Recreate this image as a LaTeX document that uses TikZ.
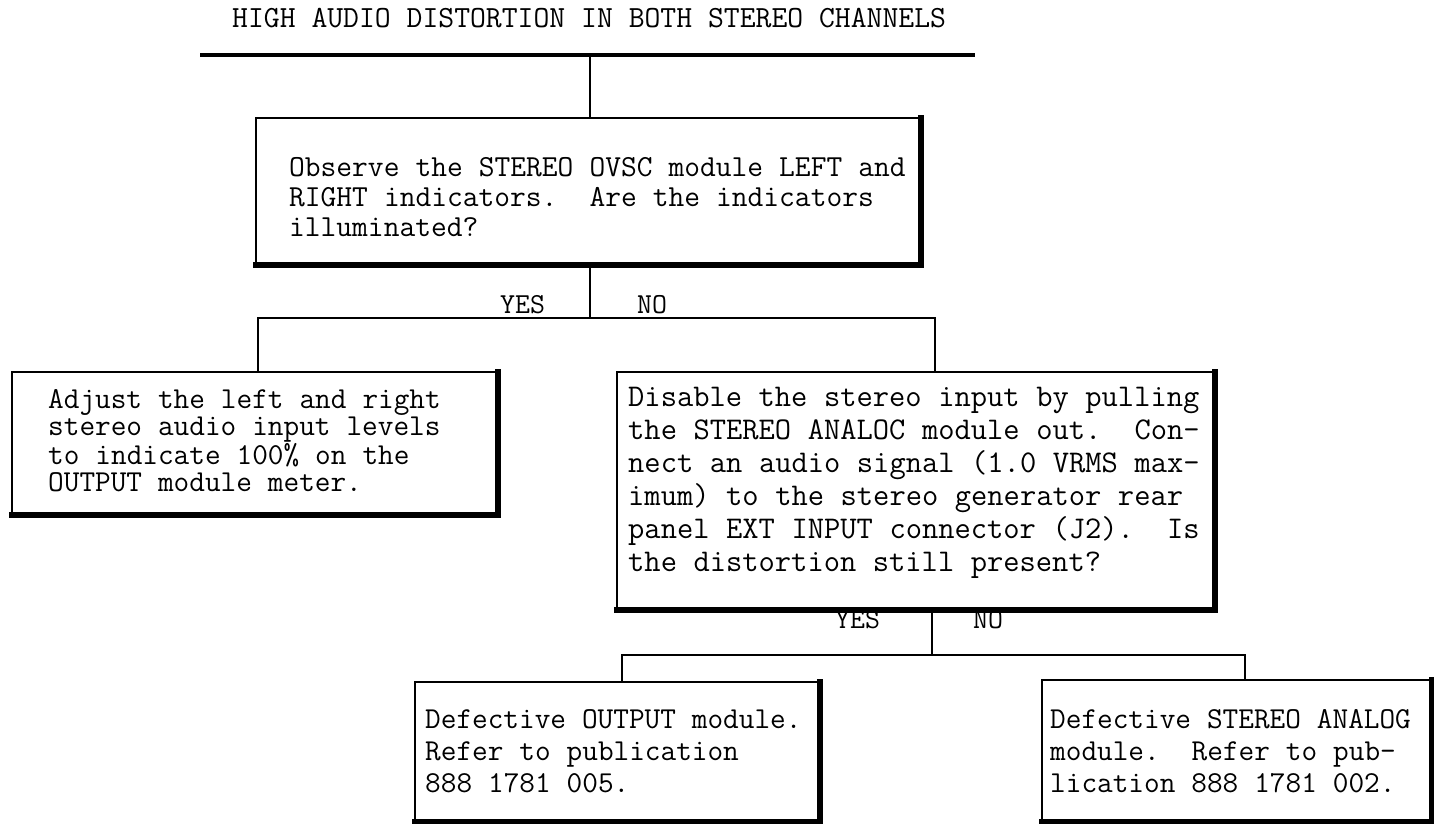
\documentclass[tikz,border=0pt]{standalone}
\usepackage{fontspec}
\newcommand\monosp{\spaceskip=0.525em\xspaceskip=0.525em\relax}
\begin{document}
\begin{tikzpicture}[x=1pt,y=-1pt,
  boxst/.style={draw=black, line width=2.8pt, rectangle, inner sep=0pt, outer sep=0pt, anchor=north west},
  shadowline/.style={line width=5.5pt, line cap=rect, line join=miter},
  conn/.style={line width=2.8pt, line cap=rect},
  rule/.style={line width=4.5pt},
  txt/.style={inner sep=0pt, anchor=base west, align=left, text width=700pt},
  lbl/.style={inner sep=0pt, anchor=base west, font=\ttfamily\fontsize{29}{30}\selectfont}
]
\useasboundingbox (0,0) rectangle (1434,824);
\fill[white] (0,0) rectangle (1434,824);

% title and rule
\node[lbl, font=\ttfamily\fontsize{30.8}{30}\selectfont] (title) at (232,28) {HIGH AUDIO DISTORTION IN BOTH STEREO CHANNELS};
\coordinate (ruleL) at (200,55);
\coordinate (ruleR) at (975,55);
\coordinate (r0) at (590,55);
\draw[rule] (ruleL) -- (ruleR);

% boxes
\node[boxst, minimum width=665, minimum height=147] (b1) at (256,118) {};
\node[boxst, minimum width=486, minimum height=143] (bA) at (12,372) {};
\node[boxst, minimum width=598, minimum height=238] (b2) at (617,372) {};
\node[boxst, minimum width=405, minimum height=140] (b3) at (415,682) {};
\node[boxst, minimum width=390, minimum height=142] (b4) at (1042,680) {};

\foreach \b in {b1,bA,b2,b3,b4}{
  \draw[shadowline] (\b.south west) -- (\b.south east) -- (\b.north east);
}

% texts
\node[txt, font=\ttfamily\fontsize{30.6}{30}\selectfont] (t1) at (289,176)
  {\monosp Observe the STEREO OVSC module LEFT and\\RIGHT indicators.~~Are the indicators\\illuminated?};
\node[txt, font=\ttfamily\fontsize{30.4}{27.5}\selectfont] (tA) at (48,408)
  {\monosp Adjust the left and right\\stereo audio input levels\\to indicate 100\% on the\\OUTPUT module meter.};
\node[txt, font=\ttfamily\fontsize{31.6}{33}\selectfont] (t2) at (628,406)
  {\monosp Disable the stereo input by pulling\\the STEREO ANALOC module out.~~Con-\\nect an audio signal (1.0 VRMS max-\\imum) to the stereo generator rear\\panel EXT INPUT connector (J2).~~Is\\the distortion still present?};
\node[txt, font=\ttfamily\fontsize{30.4}{32}\selectfont] (t3) at (425,728)
  {\monosp Defective OUTPUT module.\\Refer to publication\\888 1781 005.};
\node[txt, font=\ttfamily\fontsize{30.4}{32}\selectfont] (t4) at (1050,728)
  {\monosp Defective STEREO ANALOG\\module.~~Refer to pub-\\lication 888 1781 002.};

% labels
\node[lbl] (yes1) at (500,313) {YES};
\node[lbl] (no1) at (637,313) {NO};
\node[lbl] (yes2) at (835,628) {YES};
\node[lbl] (no2) at (973,628) {NO};

% connectors
\draw[conn] (r0) -- (r0 |- b1.north);
\coordinate (s1) at (590,318);
\coordinate (jl) at (258,318);
\coordinate (jr) at (935,318);
\draw[conn] (b1.south -| s1) -- (s1);
\draw[conn] (jl |- bA.north) -- (jl) -- (jr) -- (jr |- b2.north);
\coordinate (s2) at (932,655);
\coordinate (kl) at (622,655);
\coordinate (kr) at (1245,655);
\draw[conn] (b2.south -| s2) -- (s2);
\draw[conn] (kl |- b3.north) -- (kl) -- (kr) -- (kr |- b4.north);
\end{tikzpicture}
\end{document}
